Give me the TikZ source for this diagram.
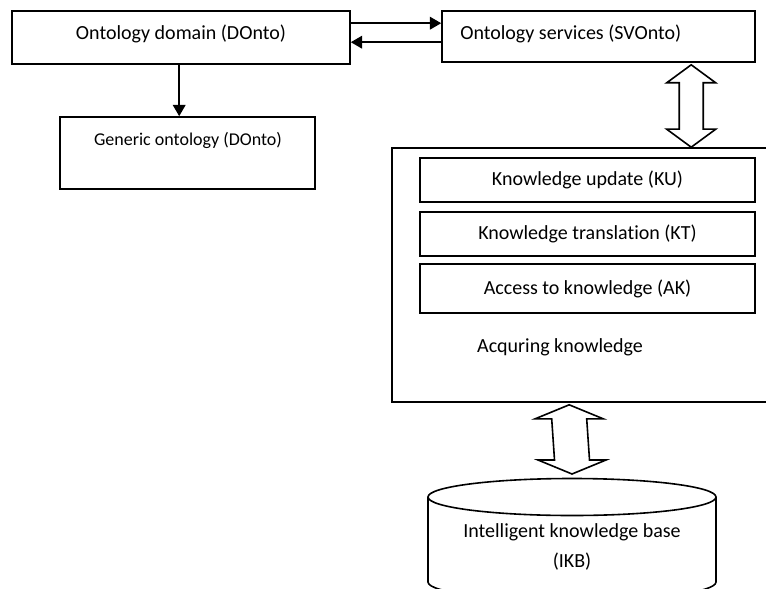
\documentclass[tikz,border=0pt]{standalone}
\usepackage{fontspec}
\setmainfont{Carlito}[Ligatures=NoCommon]
\usetikzlibrary{arrows.meta,calc}
\begin{document}
\begin{tikzpicture}[x=0.75pt,y=0.75pt,
  every node/.style={font=\fontsize{15}{22.5}\selectfont, inner sep=0pt},
  box/.style={draw, line width=1.2pt, fill=white, rectangle},
  link/.style={line width=1.2pt, -{Triangle[length=8.5pt,width=9.5pt]}},
  blockarrow/.style={draw, line width=1.2pt, fill=white, line join=miter},
  outline/.style={line width=1.2pt}]
\useasboundingbox (0,0) rectangle (766,-588);
\clip (0,0) rectangle (766,-588);

% upper row
\node[box, minimum width=253.5pt, minimum height=39.75pt] (dom) at (181,-37.5) {};
\node (domtext) at (181,-34) {Ontology domain (DOnto)};
\node[box, minimum width=234.75pt, minimum height=38.25pt] (svc) at (598.5,-36.5) {};
\node[anchor=west] (svctext) at (460,-34) {Ontology services (SVOnto)};

% generic ontology
\node[box, minimum width=191.25pt, minimum height=54pt] (gen) at (187.5,-153) {};
\node[font=\fontsize{13.5}{16}\selectfont] (gentext) at (188,-140) {Generic ontology (DOnto)};

% knowledge acquisition block
\node[box, minimum width=291pt, minimum height=190.5pt] (acq) at (586,-275) {};
\node[box, minimum width=251.25pt, minimum height=33pt] (ku) at (587.5,-180) {Knowledge update (KU)};
\node[box, minimum width=251.25pt, minimum height=33pt] (kt) at (587.5,-234) {Knowledge translation (KT)};
\node[box, minimum width=251.25pt, minimum height=36.75pt] (ak) at (587.5,-288.5) {Access to knowledge (AK)};
\node (acqlbl) at (560,-347) {Acquring knowledge};

% knowledge base cylinder
\coordinate (ikbtop) at (572,-478.5);
\draw[outline, fill=white] (428,-497) -- (428,-582) arc[start angle=180,end angle=360,x radius=144,y radius=18.5] -- (716,-497);
\draw[outline] (572,-497) ellipse [x radius=144, y radius=18.5];
\node[align=center] (ikb) at (572,-547) {Intelligent knowledge base\\(IKB)};

% thin connectors
\draw[link] ($(dom.north east)+(0,-13)$) -- ($(svc.north west)+(0,-13)$);
\draw[link] ($(svc.north west)+(0,-32)$) -- ($(dom.north east)+(0,-32)$);
\draw[link] ($(dom.south west)+(168,0)$) -- ($(gen.north west)+(120,0)$);

% block double arrows
\coordinate (u1) at ($(svc.south west)+(250,-2)$);
\coordinate (d1) at ($(acq.north west)+(300,0)$);
\draw[blockarrow] (u1) -- ++(24.5,-18) -- ++(-12.5,0) -- ($(d1)+(12,18)$) -- ++(12.5,0)
  -- (d1) -- ++(-24.5,18) -- ++(12.5,0) -- ($(u1)+(-12,-18)$) -- ++(-12.5,0) -- cycle;

\coordinate (u2) at ($(acq.south west)+(178,-2)$);
\coordinate (d2) at ($(ikbtop)+(0,4.5)$);
\draw[blockarrow] (u2) -- ++(34,-14) -- ++(-16.5,0) -- ($(d2)+(17.5,14)$) -- ++(16.5,0)
  -- (d2) -- ++(-34,14) -- ++(16.5,0) -- ($(u2)+(-17.5,-14)$) -- ++(-16.5,0) -- cycle;
\end{tikzpicture}
\end{document}
